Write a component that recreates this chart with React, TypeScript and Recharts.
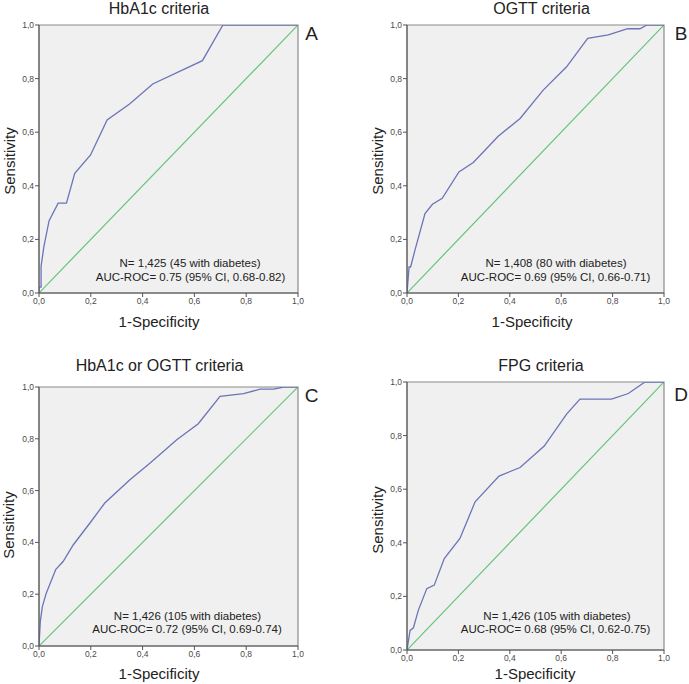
import React from 'react';
import { LineChart, Line, XAxis, YAxis, ReferenceArea } from 'recharts';

// ---- Data ----
const axisTicks = [0, 0.2, 0.4, 0.6, 0.8, 1.0];
const diagX = [0, 1];
const diagY = [0, 1];

const hba1cX = [0, 0, 0.008, 0.008, 0.019, 0.039, 0.074, 0.106, 0.138, 0.199, 0.263, 0.351, 0.439, 0.631, 0.71, 1];
const hba1cY = [0, 0.022, 0.022, 0.1, 0.174, 0.27, 0.335, 0.335, 0.447, 0.515, 0.646, 0.706, 0.78, 0.867, 1, 1];

const ogttX = [0, 0.008, 0.014, 0.031, 0.07, 0.099, 0.137, 0.202, 0.258, 0.355, 0.44, 0.53, 0.621, 0.703, 0.783, 0.859, 0.907, 0.933, 1];
const ogttY = [0, 0.097, 0.097, 0.16, 0.296, 0.331, 0.353, 0.452, 0.487, 0.585, 0.651, 0.757, 0.844, 0.95, 0.963, 0.986, 0.986, 1, 1];

const eitherX = [0, 0.005, 0.013, 0.028, 0.065, 0.093, 0.132, 0.196, 0.254, 0.351, 0.428, 0.532, 0.615, 0.699, 0.79, 0.854, 0.906, 0.945, 1];
const eitherY = [0, 0.094, 0.152, 0.204, 0.296, 0.326, 0.39, 0.474, 0.552, 0.642, 0.706, 0.796, 0.858, 0.964, 0.974, 0.992, 0.992, 1, 1];

const fpgX = [0, 0.012, 0.025, 0.044, 0.077, 0.106, 0.145, 0.206, 0.265, 0.358, 0.44, 0.534, 0.621, 0.673, 0.796, 0.861, 0.926, 1];
const fpgY = [0, 0.073, 0.083, 0.148, 0.229, 0.242, 0.341, 0.416, 0.553, 0.649, 0.681, 0.761, 0.88, 0.936, 0.936, 0.957, 1, 1];

const titles = ['HbA1c criteria', 'OGTT criteria', 'HbA1c or OGTT criteria', 'FPG criteria'];
const letters = ['A', 'B', 'C', 'D'];
const nLines = [
  'N= 1,425 (45 with diabetes)',
  'N= 1,408 (80 with diabetes)',
  'N= 1,426 (105 with diabetes)',
  'N= 1,426 (105 with diabetes)',
];
const aucLines = [
  'AUC-ROC= 0.75 (95% CI, 0.68-0.82)',
  'AUC-ROC= 0.69 (95% CI, 0.66-0.71)',
  'AUC-ROC= 0.72 (95% CI, 0.69-0.74)',
  'AUC-ROC= 0.68 (95% CI, 0.62-0.75)',
];
const xLabel = '1-Specificity';
const yLabel = 'Sensitivity';

const toRows = (xs: number[], ys: number[]) => xs.map((x, i) => ({ x, y: ys[i] }));
const curves = [
  toRows(hba1cX, hba1cY),
  toRows(ogttX, ogttY),
  toRows(eitherX, eitherY),
  toRows(fpgX, fpgY),
];
const diagonal = toRows(diagX, diagY);

// ---- Layout ----
const FONT = '"Liberation Sans", Arial, Helvetica, sans-serif';
const BLUE = '#6b74b8';
const GREEN = '#66c47a';
const BG = '#f0f0f0';
const BORDER = '#8a8a8a';
const AXIS = '#555';

const layout = [
  { px: 39, py: 25, pw: 259, ph: 268, title: [159, 9], letter: [311.5, 32.5], xl: [159, 320.5], yl: [8.5, 161], n: [190, 264], auc: [190.5, 278] },
  { px: 407, py: 25, pw: 257, ph: 268, title: [541.5, 9], letter: [681, 32.5], xl: [532, 321], yl: [376.7, 161], n: [556, 264], auc: [555.5, 278] },
  { px: 39, py: 387, pw: 259, ph: 259, title: [159.5, 366], letter: [311.5, 395], xl: [159, 672.5], yl: [8.3, 525], n: [187.5, 616.5], auc: [187, 630] },
  { px: 407, py: 382, pw: 257, ph: 268, title: [541, 366], letter: [681, 393.5], xl: [535, 672.5], yl: [376.7, 520], n: [557, 616.5], auc: [555.5, 629.5] },
];

const fmt = (v: number) => v.toFixed(1).replace('.', ',');

const Txt = ({ at, size, children, rotate }: any) => (
  <div
    style={{
      position: 'absolute',
      left: at[0],
      top: at[1],
      transform: `translate(-50%, -50%)${rotate ? ' rotate(-90deg)' : ''}`,
      fontFamily: FONT,
      fontSize: size,
      lineHeight: 1,
      color: '#222',
      whiteSpace: 'nowrap',
    }}
  >
    {children}
  </div>
);

const Panel = ({ i }: { i: number }) => {
  const L = layout[i];
  const w = L.pw + 50;
  const h = L.ph + 40;
  const tickStyle = { fontSize: 8.5, fill: '#4a4a4a', fontFamily: FONT };
  return (
    <>
      <div style={{ position: 'absolute', left: L.px - 40, top: L.py - 10, width: w, height: h }}>
        <LineChart width={w} height={h} margin={{ top: 10, right: 10, left: 0, bottom: 0 }}>
          <ReferenceArea x1={0} x2={1} y1={0} y2={1} fill={BG} fillOpacity={1} stroke={BORDER} strokeWidth={1.2} />
          <XAxis
            dataKey="x"
            type="number"
            domain={[0, 1]}
            ticks={axisTicks}
            tickFormatter={fmt}
            height={30}
            tickSize={4}
            tickMargin={1}
            tick={tickStyle}
            stroke={AXIS}
            allowDataOverflow
          />
          <YAxis
            dataKey="y"
            type="number"
            domain={[0, 1]}
            ticks={axisTicks}
            tickFormatter={fmt}
            width={40}
            tickSize={4}
            tickMargin={1}
            tick={tickStyle}
            stroke={AXIS}
            allowDataOverflow
          />
          <Line data={diagonal} dataKey="y" type="linear" stroke={GREEN} strokeWidth={1.2} dot={false} isAnimationActive={false} />
          <Line data={curves[i]} dataKey="y" type="linear" stroke={BLUE} strokeWidth={1.3} dot={false} isAnimationActive={false} />
        </LineChart>
      </div>
      <Txt at={L.title} size={16}>{titles[i]}</Txt>
      <Txt at={L.letter} size={19}>{letters[i]}</Txt>
      <Txt at={L.xl} size={15}>{xLabel}</Txt>
      <Txt at={L.yl} size={15} rotate>{yLabel}</Txt>
      <Txt at={L.n} size={11.5}>{nLines[i]}</Txt>
      <Txt at={L.auc} size={11.5}>{aucLines[i]}</Txt>
    </>
  );
};

export default function App() {
  return (
    <div style={{ position: 'absolute', left: 0, top: 0, width: 689, height: 684, background: '#fff', overflow: 'hidden' }}>
      {[0, 1, 2, 3].map((i) => (
        <Panel key={i} i={i} />
      ))}
    </div>
  );
}
